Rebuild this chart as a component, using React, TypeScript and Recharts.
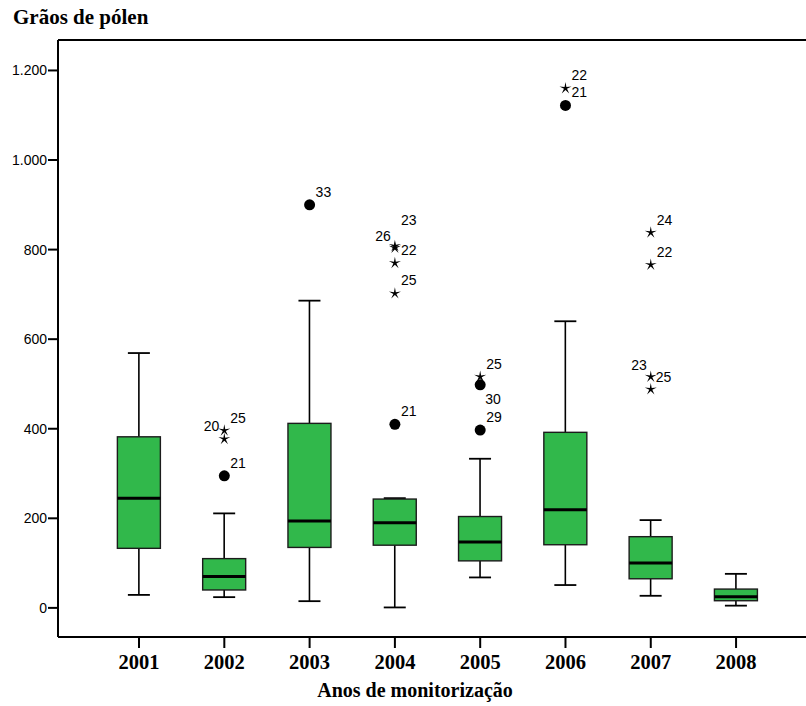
import React from 'react';
import { ComposedChart, Bar, Scatter, XAxis, YAxis, ReferenceLine } from 'recharts';

// ---- data ----
const years = [2001, 2002, 2003, 2004, 2005, 2006, 2007, 2008];
const mins = [29, 24, 15, 1, 68, 51, 27, 5];
const q1s = [133, 40, 135, 140, 105, 141, 65, 16];
const medians = [245, 70, 194, 190, 147, 219, 100, 25];
const q3s = [382, 110, 412, 243, 204, 392, 159, 42];
const maxs = [569, 211, 686, 245, 333, 640, 196, 76];

const yTicks = [0, 200, 400, 600, 800, 1000, 1200];
const yDomain = [-65, 1268];
const xDomain = [2000.05, 2008.82];

const chartTitle = 'Grãos de pólen';
const xTitle = 'Anos de monitorização';

// outliers: circle = outlier, star = extreme; labels are case numbers
const outliers = [
  { year: 2002, value: 295, kind: 'circle', labels: [{ text: '21', place: 'ur' }] },
  { year: 2002, value: 396, kind: 'star', labels: [{ text: '20', place: 'l' }, { text: '25', place: 'ur' }] },
  { year: 2002, value: 377, kind: 'star', labels: [] },
  { year: 2003, value: 900, kind: 'circle', labels: [{ text: '33', place: 'ur' }] },
  { year: 2004, value: 410, kind: 'circle', labels: [{ text: '21', place: 'ur' }] },
  { year: 2004, value: 808, kind: 'star', labels: [{ text: '23', place: 'uur' }] },
  { year: 2004, value: 804, kind: 'star', labels: [{ text: '26', place: 'ul' }] },
  { year: 2004, value: 770, kind: 'star', labels: [{ text: '22', place: 'ur' }] },
  { year: 2004, value: 702, kind: 'star', labels: [{ text: '25', place: 'ur' }] },
  { year: 2005, value: 516, kind: 'star', labels: [{ text: '25', place: 'ur' }] },
  { year: 2005, value: 498, kind: 'circle', labels: [{ text: '30', place: 'lr' }] },
  { year: 2005, value: 397, kind: 'circle', labels: [{ text: '29', place: 'ur' }] },
  { year: 2006, value: 1160, kind: 'star', labels: [{ text: '22', place: 'ur' }] },
  { year: 2006, value: 1122, kind: 'circle', labels: [{ text: '21', place: 'ur' }] },
  { year: 2007, value: 838, kind: 'star', labels: [{ text: '24', place: 'ur' }] },
  { year: 2007, value: 766, kind: 'star', labels: [{ text: '22', place: 'ur' }] },
  { year: 2007, value: 516, kind: 'star', labels: [{ text: '23', place: 'ul' }, { text: '25', place: 'r' }] },
  { year: 2007, value: 488, kind: 'star', labels: [] },
];

const boxData = years.map((year, i) => ({
  year,
  min: mins[i],
  q1: q1s[i],
  median: medians[i],
  q3: q3s[i],
  max: maxs[i],
}));

// ---- styles ----
const GREEN = '#31b84b';
const SANS = 'Arial, "Liberation Sans", sans-serif';
const SERIF = '"Liberation Serif", "Times New Roman", serif';

const formatY = (v: number) =>
  v >= 1000 ? `${Math.floor(v / 1000)}.${String(v % 1000).padStart(3, '0')}` : String(v);

const labelPlace: Record<string, { dx: number; dy: number; anchor: 'start' | 'end' }> = {
  ur: { dx: 6, dy: -8, anchor: 'start' },
  uur: { dx: 6, dy: -21, anchor: 'start' },
  ul: { dx: -4, dy: -7, anchor: 'end' },
  l: { dx: -5, dy: 0, anchor: 'end' },
  r: { dx: 5, dy: 5, anchor: 'start' },
  lr: { dx: 5, dy: 19, anchor: 'start' },
};

function BoxShape(props: any) {
  const { x, y, width, height } = props;
  const d = props.payload ?? props;
  const yA = y;
  const yB = y + height;
  const top = Math.min(yA, yB);
  const bottom = Math.max(yA, yB);
  const span = d.max - d.min;
  const toPx = (v: number) => (span === 0 ? top : bottom - ((v - d.min) / span) * (bottom - top));
  const cx = x + width / 2;
  const capHalf = 11;
  const pMin = toPx(d.min);
  const pMax = toPx(d.max);
  const pQ1 = toPx(d.q1);
  const pQ3 = toPx(d.q3);
  const pMed = toPx(d.median);
  return (
    <g>
      <line x1={cx} x2={cx} y1={pMax} y2={pQ3} stroke="#000" strokeWidth={1.6} />
      <line x1={cx} x2={cx} y1={pQ1} y2={pMin} stroke="#000" strokeWidth={1.6} />
      <line x1={cx - capHalf} x2={cx + capHalf} y1={pMax} y2={pMax} stroke="#000" strokeWidth={1.8} />
      <line x1={cx - capHalf} x2={cx + capHalf} y1={pMin} y2={pMin} stroke="#000" strokeWidth={1.8} />
      <rect x={x} y={pQ3} width={width} height={pQ1 - pQ3} fill={GREEN} stroke="#1c1c1c" strokeWidth={1.4} />
      <line x1={x} x2={x + width} y1={pMed} y2={pMed} stroke="#000" strokeWidth={3} />
    </g>
  );
}

function starPoints(cx: number, cy: number, ro: number, ri: number) {
  const pts: string[] = [];
  for (let k = 0; k < 10; k++) {
    const r = k % 2 === 0 ? ro : ri;
    const a = -Math.PI / 2 + (k * Math.PI) / 5;
    pts.push(`${cx + r * Math.cos(a)},${cy + r * Math.sin(a)}`);
  }
  return pts.join(' ');
}

function OutlierShape(props: any) {
  const { cx, cy } = props;
  const d = props.payload ?? props;
  if (cx == null || cy == null) return null;
  return (
    <g>
      {d.kind === 'circle' ? (
        <circle cx={cx} cy={cy} r={5.5} fill="#000" />
      ) : (
        <polygon points={starPoints(cx, cy, 6.3, 1.6)} fill="#000" />
      )}
      {(d.labels || []).map((lb: any, i: number) => {
        const p = labelPlace[lb.place];
        return (
          <text
            key={i}
            x={cx + p.dx}
            y={cy + p.dy}
            textAnchor={p.anchor}
            fontFamily={SANS}
            fontSize={14}
            fill="#000"
          >
            {lb.text}
          </text>
        );
      })}
    </g>
  );
}

export default function App() {
  return (
    <div
      style={{
        position: 'absolute',
        left: 0,
        top: 0,
        width: 806,
        height: 706,
        background: '#fff',
      }}
    >
      <div
        style={{
          position: 'absolute',
          left: 13,
          top: 7,
          fontFamily: SERIF,
          fontWeight: 'bold',
          fontSize: 21,
          lineHeight: '21px',
          color: '#000',
          whiteSpace: 'nowrap',
          zIndex: 2,
        }}
      >
        {chartTitle}
      </div>
      <ComposedChart
        width={806}
        height={706}
        data={boxData}
        margin={{ top: 40, right: 0, bottom: 0, left: 0 }}
      >
        <XAxis
          dataKey="year"
          type="number"
          domain={xDomain}
          allowDataOverflow
          ticks={years}
          interval={0}
          tickFormatter={(v: number) => String(v)}
          height={69}
          tickSize={11}
          tickMargin={6}
          axisLine={{ stroke: '#000', strokeWidth: 2 }}
          tickLine={{ stroke: '#000', strokeWidth: 2 }}
          tick={{ fill: '#000', fontSize: 20.5, fontFamily: SERIF, fontWeight: 'bold' }}
          label={{
            value: xTitle,
            position: 'insideBottom',
            offset: 9,
            dx: -17,
            fill: '#000',
            style: { fontFamily: SERIF, fontWeight: 'bold', fontSize: 20, fill: '#000' },
          }}
        />
        <YAxis
          type="number"
          domain={yDomain}
          allowDataOverflow
          ticks={yTicks}
          interval={0}
          tickFormatter={formatY}
          width={58}
          tickSize={10}
          tickMargin={1}
          axisLine={{ stroke: '#000', strokeWidth: 2 }}
          tickLine={{ stroke: '#000', strokeWidth: 2 }}
          tick={{ fill: '#000', fontSize: 14, fontFamily: SANS }}
        />
        <ReferenceLine y={yDomain[1]} stroke="#000" strokeWidth={2} />
        <Bar
          dataKey={(d: any) => [d.min, d.max]}
          barSize={43}
          shape={BoxShape}
          isAnimationActive={false}
        />
        <Scatter
          data={outliers}
          dataKey="value"
          shape={OutlierShape}
          isAnimationActive={false}
        />
      </ComposedChart>
    </div>
  );
}
